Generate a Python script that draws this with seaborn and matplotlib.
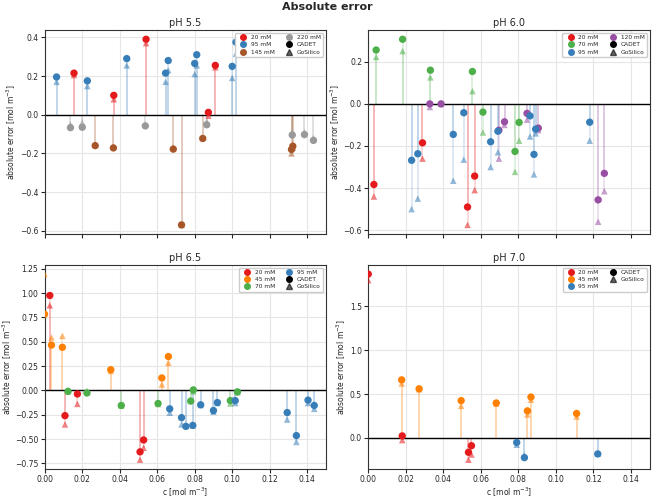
import matplotlib
matplotlib.use("Agg")
import matplotlib.pyplot as plt
from matplotlib.lines import Line2D
import seaborn as sns
import pandas as pd

# ---------------- data ----------------
ph55_conc = [95]*9 + [20]*5 + [220]*7 + [145]*7
ph55_c = [0.0064, 0.0228, 0.0438, 0.0645, 0.0659, 0.0800, 0.0811, 0.1000, 0.1020,
          0.0157, 0.0369, 0.0541, 0.0873, 0.0910,
          0.0138, 0.0201, 0.0537, 0.0864, 0.1320, 0.1385, 0.1433,
          0.0270, 0.0367, 0.0686, 0.0730, 0.0843, 0.1316, 0.1323]
ph55_cadet = [0.195, 0.175, 0.290, 0.215, 0.280, 0.265, 0.310, 0.250, 0.375,
              0.215, 0.100, 0.390, 0.012, 0.255,
              -0.067, -0.065, -0.058, -0.052, -0.105, -0.103, -0.133,
              -0.160, -0.172, -0.178, -0.570, -0.123, -0.180, -0.163]
ph55_gosilico = [0.170, 0.148, 0.255, 0.170, 0.230, 0.210, 0.255, 0.190, 0.315,
                 0.205, 0.080, 0.370, -0.005, 0.245,
                 -0.050, -0.040, -0.050, -0.035, -0.090, -0.090, -0.120,
                 -0.155, -0.165, -0.170, -0.570, -0.120, -0.200, -0.170]

ph60_conc = [70]*7 + [120]*8 + [95]*10 + [20]*4
ph60_c = [0.0042, 0.0183, 0.0331, 0.0555, 0.0611, 0.0782, 0.0804,
          0.0328, 0.0388, 0.0726, 0.0696, 0.0846, 0.0906, 0.1225, 0.1258,
          0.0231, 0.0264, 0.0453, 0.0509, 0.0652, 0.0691, 0.0862, 0.0883, 0.0892, 0.1180,
          0.0030, 0.0289, 0.0529, 0.0567]
ph60_cadet = [0.256, 0.307, 0.160, 0.154, -0.039, -0.226, -0.088,
              0.000, 0.000, -0.085, -0.125, -0.045, -0.115, -0.456, -0.330,
              -0.268, -0.237, -0.145, -0.042, -0.180, -0.130, -0.057, -0.240, -0.120, -0.087,
              -0.383, -0.185, -0.490, -0.343]
ph60_gosilico = [0.223, 0.251, 0.126, 0.061, -0.136, -0.323, -0.175,
                 -0.015, 0.000, -0.100, -0.260, -0.075, -0.125, -0.560, -0.415,
                 -0.500, -0.450, -0.365, -0.265, -0.300, -0.230, -0.155, -0.335, -0.140, -0.175,
                 -0.440, -0.260, -0.575, -0.410]

ph65_conc = [20]*5 + [45]*6 + [70]*8 + [95]*12
ph65_c = [0.0028, 0.0109, 0.0175, 0.0509, 0.0528,
          0.0000, 0.0037, 0.0095, 0.0353, 0.0625, 0.0660,
          0.0125, 0.0226, 0.0409, 0.0605, 0.0779, 0.0793, 0.0990, 0.1028,
          0.0667, 0.0730, 0.0753, 0.0790, 0.0832, 0.0900, 0.0921, 0.1016, 0.1293, 0.1342, 0.1404, 0.1437]
ph65_cadet = [0.976, -0.260, -0.037, -0.632, -0.510,
              0.784, 0.466, 0.443, 0.213, 0.128, 0.348,
              -0.010, -0.027, -0.155, -0.135, -0.110, 0.005, -0.105, -0.015,
              -0.190, -0.280, -0.370, -0.360, -0.148, -0.207, -0.125, -0.105, -0.228, -0.465, -0.100, -0.155]
ph65_gosilico = [0.875, -0.350, -0.139, -0.713, -0.590,
                 1.196, 0.544, 0.561, 0.200, 0.061, 0.284,
                 -0.010, -0.005, -0.155, -0.140, -0.100, -0.010, -0.135, -0.020,
                 -0.230, -0.350, -0.360, -0.360, -0.150, -0.220, -0.130, -0.130, -0.300, -0.530, -0.130, -0.190]

ph70_conc = [20]*4 + [45]*7 + [95]*3
ph70_c = [0.0000, 0.0181, 0.0534, 0.0550,
          0.0178, 0.0271, 0.0495, 0.0682, 0.0848, 0.0867, 0.1110,
          0.0791, 0.0832, 0.1223]
ph70_cadet = [1.870, 0.022, -0.165, -0.090,
              0.662, 0.560, 0.425, 0.398, 0.308, 0.466, 0.278,
              -0.053, -0.226, -0.184]
ph70_gosilico = [1.800, -0.026, -0.250, -0.190,
                 0.620, 0.555, 0.365, 0.390, 0.267, 0.436, 0.244,
                 -0.079, -0.200, -0.180]

panels = [("pH 5.5", ph55_conc, ph55_c, ph55_cadet, ph55_gosilico),
          ("pH 6.0", ph60_conc, ph60_c, ph60_cadet, ph60_gosilico),
          ("pH 6.5", ph65_conc, ph65_c, ph65_cadet, ph65_gosilico),
          ("pH 7.0", ph70_conc, ph70_c, ph70_cadet, ph70_gosilico)]

set1 = sns.color_palette("Set1", 9)
conc_colors = {20: set1[0], 45: set1[4], 70: set1[2], 95: set1[1],
               120: set1[3], 145: set1[6], 220: set1[8]}

# ---------------- plot ----------------
sns.set_theme(style="ticks")
plt.rcParams["font.family"] = ["DejaVu Sans"]
fig, axes = plt.subplots(2, 2, figsize=(6.55, 5.0), dpi=100, sharex=True)
fig.subplots_adjust(left=0.068, right=0.992, top=0.94, bottom=0.062,
                    wspace=0.15, hspace=0.15)

for ax, (title, conc, c, cadet, gos) in zip(axes.flat, panels):
    df = pd.DataFrame({"conc": conc, "c": c, "CADET": cadet, "GoSilico": gos})
    order = sorted(df["conc"].unique())
    pal = {k: conc_colors[k] for k in order}
    for _, r in df.iterrows():
        col = conc_colors[r["conc"]]
        ax.vlines(r["c"], 0, r["GoSilico"], color=col, alpha=0.18, lw=1.3, zorder=1)
        ax.vlines(r["c"], 0, r["CADET"], color=col, alpha=0.18, lw=1.3, zorder=1)
    ax.axhline(0, color="black", lw=1.0, zorder=2)
    sns.scatterplot(data=df, x="c", y="GoSilico", hue="conc", palette=pal,
                    marker="^", s=22, alpha=0.55, linewidth=0, ax=ax,
                    legend=False, zorder=3)
    sns.scatterplot(data=df, x="c", y="CADET", hue="conc", palette=pal,
                    marker="o", s=28, linewidth=0, ax=ax, legend=False, zorder=4)
    ax.set_xlim(0, 0.15)
    ax.set_title(title, fontsize=7, pad=3)
    ax.set_xlabel(r"c [mol m$^{-3}$]", fontsize=5.5, labelpad=1)
    ax.set_ylabel(r"absolute error [mol m$^{-3}$]", fontsize=5.5, labelpad=1)
    ax.tick_params(labelsize=5.5, length=3, width=0.8, pad=1.5)
    ax.grid(True, color="#e6e6e6", lw=0.8)
    for sp in ax.spines.values():
        sp.set_color("#333333")
        sp.set_linewidth(0.8)

    handles = [Line2D([], [], ls="", marker="o", color=conc_colors[k], markersize=4,
                      label=f"{k} mM") for k in order]
    handles += [Line2D([], [], ls="", marker="o", color="black", markersize=4, label="CADET"),
                Line2D([], [], ls="", marker="^", color="black", alpha=0.6, markersize=4,
                       label="GoSilico")]
    ax.legend(handles=handles, ncol=2, loc="upper right", fontsize=4.2,
              frameon=True, handletextpad=0.3, columnspacing=1.5,
              borderpad=0.4, labelspacing=0.35, framealpha=1, edgecolor="#cccccc")

fig.suptitle("Absolute error", fontsize=8, fontweight="bold", y=0.995)
fig.savefig("out.png", dpi=100)
